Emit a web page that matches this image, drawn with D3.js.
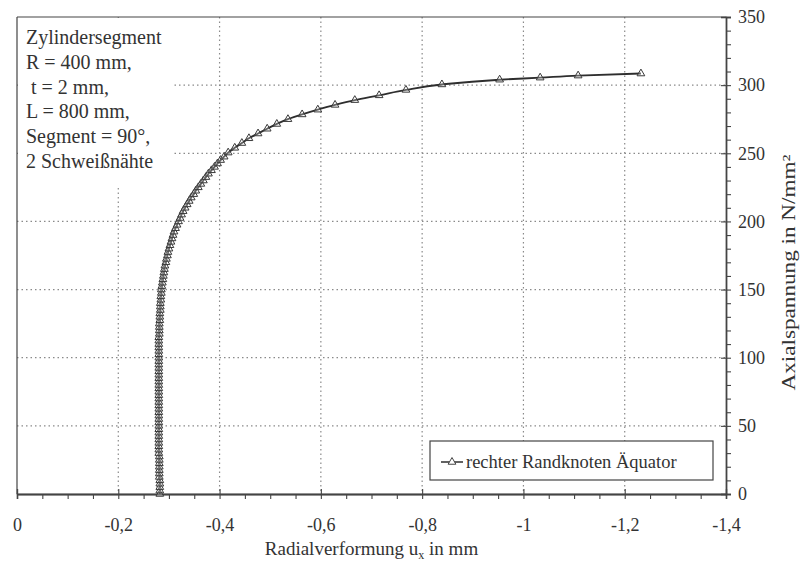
<!DOCTYPE html>
<html><head><meta charset="utf-8">
<script src="https://cdn.jsdelivr.net/npm/d3@7"></script>
<style>
html,body{margin:0;padding:0;background:#fff;}
svg text{font-family:"Liberation Serif","DejaVu Serif",serif !important;fill:#333;}
</style></head>
<body><svg id="chart" width="807" height="563"></svg>
<script>
// ---- data ----
const stress = [
  0,2.5,5,7.5,10,12.5,15,17.5,20,22.5,25,27.5,30,32.5,35,37.5,40,42.5,45,47.5,
  50,52.5,55,57.5,60,62.5,65,67.5,70,72.5,75,77.5,80,82.5,85,87.5,90,92.5,95,97.5,
  100,102.5,105,107.5,110,112.5,115,117.5,120,122.5,125,127.5,130,132.5,135,137.5,140,142.5,145,147.5,
  150,152.5,155,157.5,160,162.5,165,167.5,170,172.5,175,177.5,180,182.5,185,187.5,190,192.5,195,197.5,
  200,202.5,205,207.5,210,212.5,215,217.5,220,222.5,225,227.5,230,232.5,235,237.5,240,242.5,245,247.5,
  250.5,254,257.5,261,264.5,268,271.5,275,278.5,282,285.5,289,292.5,296.5,300.5,304,305.5,307,308.5
];
const deformation = [
  -0.282,-0.282,-0.282,-0.282,-0.282,-0.281,-0.281,-0.281,-0.281,-0.281,-0.281,-0.281,-0.280,-0.280,-0.280,-0.280,-0.280,-0.280,-0.280,-0.280,
  -0.280,-0.280,-0.280,-0.280,-0.280,-0.280,-0.280,-0.280,-0.280,-0.280,-0.280,-0.280,-0.280,-0.280,-0.280,-0.280,-0.280,-0.280,-0.280,-0.280,
  -0.280,-0.280,-0.280,-0.280,-0.280,-0.280,-0.280,-0.281,-0.281,-0.281,-0.281,-0.282,-0.282,-0.282,-0.283,-0.283,-0.283,-0.284,-0.284,-0.285,
  -0.285,-0.286,-0.287,-0.288,-0.289,-0.290,-0.291,-0.292,-0.294,-0.295,-0.297,-0.298,-0.300,-0.302,-0.304,-0.306,-0.308,-0.310,-0.313,-0.316,
  -0.319,-0.322,-0.325,-0.328,-0.332,-0.336,-0.340,-0.344,-0.349,-0.353,-0.358,-0.363,-0.368,-0.373,-0.378,-0.384,-0.390,-0.396,-0.402,-0.409,
  -0.417,-0.430,-0.444,-0.458,-0.476,-0.494,-0.513,-0.535,-0.563,-0.594,-0.628,-0.667,-0.715,-0.768,-0.839,-0.953,-1.033,-1.108,-1.232
];
const xTicks = [0,-0.2,-0.4,-0.6,-0.8,-1.0,-1.2,-1.4];
const xMinorTicks = [-0.05,-0.1,-0.15,-0.25,-0.3,-0.35,-0.45,-0.5,-0.55,-0.65,-0.7,-0.75,-0.85,-0.9,-0.95,-1.05,-1.1,-1.15,-1.25,-1.3,-1.35];
const yTicks = [0,50,100,150,200,250,300,350];
const yMinorTicks = [10,20,30,40,60,70,80,90,110,120,130,140,160,170,180,190,210,220,230,240,260,270,280,290,310,320,330,340];
const infoLines = ["Zylindersegment","R = 400 mm,","\u00a0t = 2 mm,","L = 800 mm,","Segment = 90°,","2 Schweißnähte"];
const seriesName = "rechter Randknoten Äquator";
const xTitle = "Radialverformung u";
const xTitleSub = "x";
const xTitleEnd = " in mm";
const yTitle = "Axialspannung in N/mm²";

// ---- drawing ----
const FONT = "Liberation Serif";
const svg = d3.select("#chart");
const L = 17, R = 726, T = 17, B = 494;
const x = d3.scaleLinear().domain([0,-1.4]).range([L,R]);
const y = d3.scaleLinear().domain([0,350]).range([B,T]);
const axisCol = "#444", gridCol = "#8a8a8a";
const fmt = v => String(+v.toFixed(1)).replace(".", ",");

// grid
svg.append("g").selectAll("line").data(xTicks.filter(v => v !== 0 && v !== -1.4)).join("line")
  .attr("x1", d => x(d)).attr("x2", d => x(d)).attr("y1", T).attr("y2", B)
  .attr("stroke", gridCol).attr("stroke-width", 1.2).attr("stroke-dasharray", "1.5,3");
svg.append("g").selectAll("line").data(yTicks.filter(v => v !== 0 && v !== 350)).join("line")
  .attr("x1", L).attr("x2", R).attr("y1", d => y(d)).attr("y2", d => y(d))
  .attr("stroke", gridCol).attr("stroke-width", 1.2).attr("stroke-dasharray", "1.5,3");

// info box (white, covers grid)
svg.append("rect").attr("x", L + 1).attr("y", T + 1).attr("width", 155).attr("height", 170).attr("fill", "#fff");
svg.append("g").selectAll("text").data(infoLines).join("text")
  .attr("x", 26).attr("y", (d, i) => 44 + i * 24.8)
  .attr("font-family", FONT).attr("font-size", 20).text(d => d);

// frame
svg.append("line").attr("x1", L).attr("x2", R).attr("y1", T).attr("y2", T).attr("stroke", axisCol).attr("stroke-width", 1.2);
svg.append("line").attr("x1", L).attr("x2", L).attr("y1", T).attr("y2", B).attr("stroke", axisCol).attr("stroke-width", 1.2);

// x axis
const gx = svg.append("g").attr("transform", `translate(0,${B})`)
  .call(d3.axisBottom(x).tickValues(xTicks).tickSize(5).tickPadding(19).tickFormat(fmt));
gx.append("g").call(d3.axisTop(x).tickValues(xTicks).tickSize(5).tickFormat(""));
gx.append("g").call(d3.axisBottom(x).tickValues(xMinorTicks).tickSize(5).tickFormat(""));
// y axis
const gy = svg.append("g").attr("transform", `translate(${R},0)`)
  .call(d3.axisRight(y).tickValues(yTicks).tickSize(5).tickPadding(7).tickFormat(d => d));
gy.append("g").call(d3.axisLeft(y).tickValues(yTicks).tickSize(5).tickFormat(""));
gy.append("g").call(d3.axisRight(y).tickValues(yMinorTicks).tickSize(5).tickFormat(""));
svg.selectAll("g").attr("font-family", FONT);
svg.selectAll(".domain").attr("stroke", axisCol).attr("stroke-width", 1.3);
svg.selectAll(".tick line").attr("stroke", axisCol).attr("stroke-width", 1.1);
svg.selectAll(".tick text").attr("font-size", 18).attr("font-family", FONT).attr("fill", "#333");

// axis titles
const xt = svg.append("text").attr("x", (L + R) / 2).attr("y", 555).attr("text-anchor", "middle")
  .attr("font-family", FONT).attr("font-size", 19);
xt.append("tspan").text(xTitle);
xt.append("tspan").attr("dy", 4).attr("font-size", 12).text(xTitleSub);
xt.append("tspan").attr("dy", -4).text(xTitleEnd);
svg.append("text").attr("transform", `translate(795,${(T + B) / 2 + 17}) rotate(-90)`)
  .attr("text-anchor", "middle").attr("font-family", FONT).attr("font-size", 18.5)
  .attr("textLength", 236).attr("lengthAdjust", "spacingAndGlyphs").text(yTitle);

// series
const pts = stress.map((s, i) => [deformation[i], s]);
svg.append("path").datum(pts)
  .attr("d", d3.line().x(d => x(d[0])).y(d => y(d[1])).curve(d3.curveMonotoneY))
  .attr("fill", "none").attr("stroke", "#2e2e2e").attr("stroke-width", 1.9);
const tri = d3.symbol(d3.symbolTriangle, 26);
svg.append("g").selectAll("path").data(pts).join("path")
  .attr("transform", d => `translate(${x(d[0])},${y(d[1])})`)
  .attr("d", tri).attr("fill", "#fff").attr("fill-opacity", 0.25)
  .attr("stroke", "#3a3a3a").attr("stroke-width", 1);

// legend
const lg = svg.append("g");
lg.append("rect").attr("x", 430).attr("y", 441).attr("width", 283).attr("height", 39)
  .attr("fill", "#fff").attr("stroke", axisCol).attr("stroke-width", 1.2);
lg.append("line").attr("x1", 441).attr("x2", 463).attr("y1", 462).attr("y2", 462).attr("stroke", "#2e2e2e").attr("stroke-width", 1.5);
lg.append("path").attr("transform", "translate(452,462)").attr("d", tri).attr("fill", "#fff").attr("stroke", "#444").attr("stroke-width", 1);
lg.append("text").attr("x", 466).attr("y", 468).attr("font-family", FONT).attr("font-size", 18.5).text(seriesName);
</script></body></html>
